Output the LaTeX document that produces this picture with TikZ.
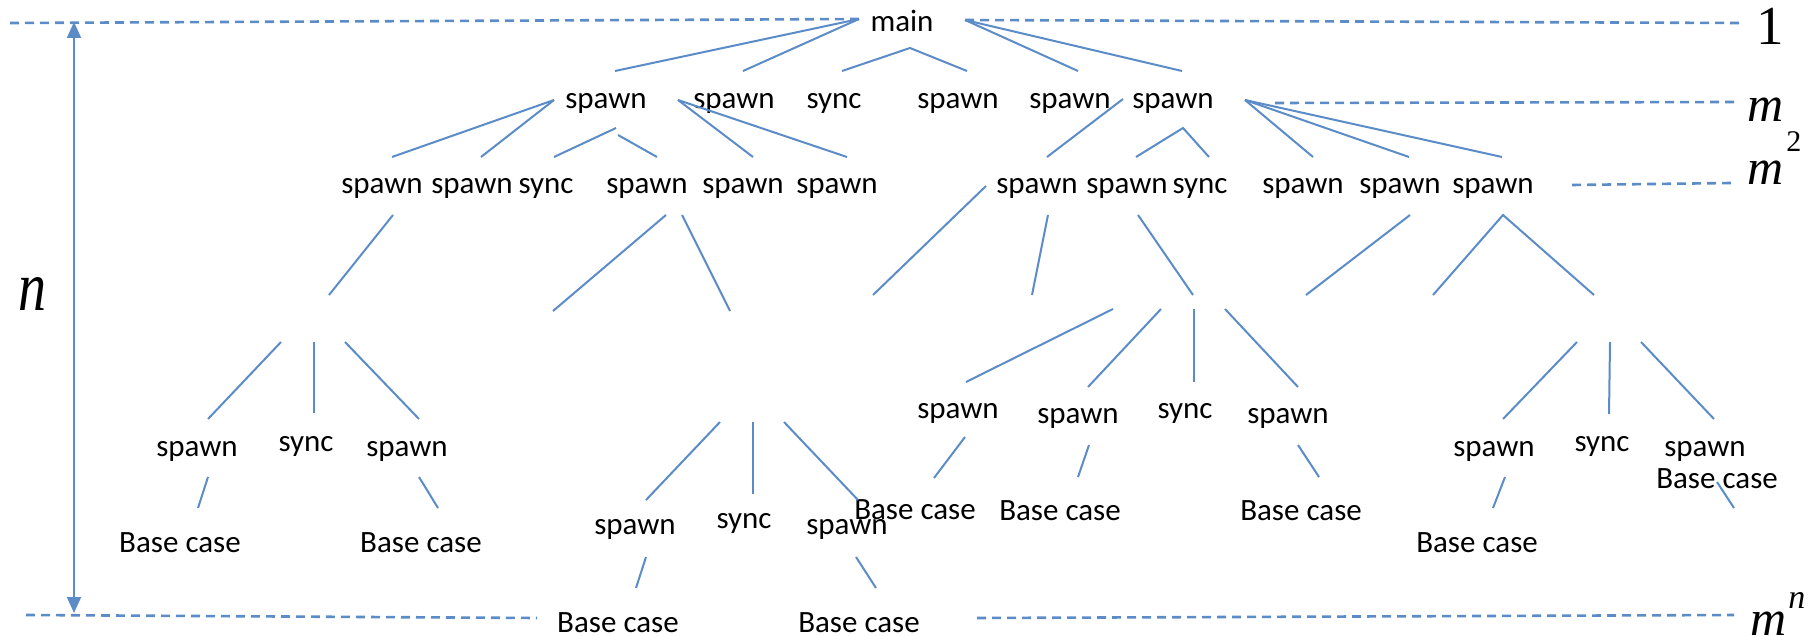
\documentclass[tikz,border=0pt]{standalone}
\usepackage{fontspec}
\setmainfont{Carlito}
\newfontfamily\labfont{Liberation Serif}[ItalicFont={Liberation Serif Italic}]
\usetikzlibrary{arrows.meta}
\definecolor{lineblue}{HTML}{5B8CC8}
\begin{document}
\begin{tikzpicture}[x=1pt,y=-1pt,
  txt/.style={inner sep=0pt, anchor=base, font=\fontsize{31}{37}\selectfont},
  edge/.style={draw=lineblue, line width=2pt},
  guide/.style={draw=lineblue, line width=2.6pt, dash pattern=on 9pt off 6pt},
  lab/.style={inner sep=0pt, font=\labfont\fontsize{50}{60}\selectfont}]
\useasboundingbox (0,0) rectangle (1820,636);

% ---- nodes ----
\node[txt] (main) at (902,32) {main};
% level 1
\node[txt] (s1) at (606,109) {spawn};
\node[txt] (s2) at (734,109) {spawn};
\node[txt] (y1) at (834,109) {sync};
\node[txt] (s4) at (958,109) {spawn};
\node[txt] (s5) at (1070,109) {spawn};
\node[txt] (s6) at (1173,109) {spawn};
% level 2
\node[txt] (a) at (382,194) {spawn};
\node[txt] (b) at (472,194) {spawn};
\node[txt] (c) at (546,194) {sync};
\node[txt] (d) at (647,194) {spawn};
\node[txt] (e) at (743,194) {spawn};
\node[txt] (f) at (837,194) {spawn};
\node[txt] (g) at (1037,194) {spawn};
\node[txt] (h) at (1127,194) {spawn};
\node[txt] (i) at (1200,194) {sync};
\node[txt] (j) at (1303,194) {spawn};
\node[txt] (k) at (1400,194) {spawn};
\node[txt] (l) at (1493,194) {spawn};
% left subtree
\node[txt] (L1) at (197,456) {spawn};
\node[txt] (L2) at (306,451) {sync};
\node[txt] (L3) at (407,456) {spawn};
\node[txt] (LB1) at (180,552) {Base case};
\node[txt] (LB3) at (421,552) {Base case};
% middle subtree
\node[txt] (M1) at (635,534) {spawn};
\node[txt] (M2) at (744,528) {sync};
\node[txt] (M3) at (847,534) {spawn};
\node[txt, text depth=0pt] (MB1) at (618,632) {Base case};
\node[txt, text depth=0pt] (MB3) at (859,632) {Base case};
% right-centre subtree
\node[txt] (R1) at (958,418) {spawn};
\node[txt] (R2) at (1078,423) {spawn};
\node[txt] (R3) at (1185,418) {sync};
\node[txt] (R4) at (1288,423) {spawn};
\node[txt] (RB1) at (915,519) {Base case};
\node[txt] (RB2) at (1060,520) {Base case};
\node[txt] (RB4) at (1301,520) {Base case};
% right subtree
\node[txt] (Q1) at (1494,456) {spawn};
\node[txt] (Q2) at (1602,451) {sync};
\node[txt] (Q3) at (1705,456) {spawn};
\node[txt] (QB3) at (1717,488) {Base case};
\node[txt] (QB1) at (1477,552) {Base case};

% labels
\node[lab, anchor=base] (one) at (1770,45) {\fontsize{55}{60}\selectfont 1};
\node[lab, anchor=base west] (lm) at (1747,122) {\itshape m};
\node[lab, anchor=base west] (lm2) at (1747,185) {\itshape m\kern3pt\raisebox{33pt}{\fontsize{30}{30}\selectfont\upshape 2}};
\node[lab, anchor=base] (ln) at (33,310) {\scalebox{0.8}[1]{\fontsize{70}{80}\selectfont\itshape n}};
\node[lab, anchor=base west, text depth=0pt] (lmn) at (1750,635) {\itshape m\kern2pt\raisebox{27pt}{\fontsize{34}{34}\selectfont n}};

% ---- junction coordinates ----
\coordinate (mL) at ([shift={(-43,-13)}]main.base);
\coordinate (mR) at ([shift={(63,-12)}]main.base);
\coordinate (mV) at ([shift={(8,16)}]main.base);
\coordinate (s1L) at ([shift={(-52,-9)}]s1.base);
\coordinate (s1V) at ([shift={(10,19)}]s1.base);
\coordinate (s1R) at ([shift={(72,-9)}]s1.base);
\coordinate (s6L) at ([shift={(-50,-10)}]s6.base);
\coordinate (s6V) at ([shift={(10,19)}]s6.base);
\coordinate (s6R) at ([shift={(72,-9)}]s6.base);
% dangling ends, level 3
\coordinate (x1) at (329,295);
\coordinate (x2) at (553,311);
\coordinate (x3) at (730,311);
\coordinate (x4) at (873,295);
\coordinate (x5) at (1032,295);
\coordinate (x6) at (1193,295);
\coordinate (x7) at (1306,295);
\coordinate (x8) at (1433,295);
\coordinate (x9) at (1594,295);
% dangling starts, level 4
\coordinate (y1s) at (281,342);
\coordinate (y2s) at (314,342);
\coordinate (y3s) at (345,342);
\coordinate (y4s) at (720,422);
\coordinate (y5s) at (753,422);
\coordinate (y6s) at (784,422);
\coordinate (y7s) at (1113,309);
\coordinate (y8s) at (1161,309);
\coordinate (y9s) at (1194,309);
\coordinate (y10s) at (1225,309);
\coordinate (y11s) at (1577,342);
\coordinate (y12s) at (1610,342);
\coordinate (y13s) at (1641,342);
\coordinate (z1) at (1734,508);
% guide ends
\coordinate (d1s) at (10,23);
\coordinate (d1e) at (1740,23);
\coordinate (d2e) at (1734,102);
\coordinate (d3s) at (1572,185);
\coordinate (d3e) at (1731,183);
\coordinate (d4s) at (26,615);
\coordinate (d4e) at (537,618);
\coordinate (d5s) at (977,618);
\coordinate (d5e) at (1734,615);
\coordinate (arT) at (74,22);
\coordinate (arB) at (74,613);

% ---- edges: main -> level 1 ----
\draw[edge] (mL) -- ([shift={(9,-38)}]s1.base);
\draw[edge] (mL) -- ([shift={(9,-38)}]s2.base);
\draw[edge] ([shift={(8,-38)}]y1.base) -- (mV) -- ([shift={(9,-38)}]s4.base);
\draw[edge] (mR) -- ([shift={(8,-38)}]s5.base);
\draw[edge] (mR) -- ([shift={(9,-38)}]s6.base);

% ---- level 1 -> level 2 ----
\draw[edge] (s1L) -- ([shift={(10,-37)}]a.base);
\draw[edge] (s1L) -- ([shift={(9,-37)}]b.base);
\draw[edge] ([shift={(8,-37)}]c.base) -- (s1V);
\draw[edge] ([shift={(12,26)}]s1.base) -- ([shift={(10,-37)}]d.base);
\draw[edge] (s1R) -- ([shift={(10,-37)}]e.base);
\draw[edge] (s1R) -- ([shift={(10,-37)}]f.base);

\draw[edge] (s6L) -- ([shift={(10,-37)}]g.base);
\draw[edge] ([shift={(9,-37)}]h.base) -- (s6V) -- ([shift={(9,-37)}]i.base);
\draw[edge] (s6R) -- ([shift={(10,-37)}]j.base);
\draw[edge] (s6R) -- ([shift={(9,-37)}]k.base);
\draw[edge] (s6R) -- ([shift={(9,-37)}]l.base);

% ---- level 2 -> level 3 ----
\draw[edge] ([shift={(11,21)}]a.base) -- (x1);
\draw[edge] ([shift={(19,21)}]d.base) -- (x2);
\draw[edge] ([shift={(35,21)}]d.base) -- (x3);
\draw[edge] ([shift={(-51,-8)}]g.base) -- (x4);
\draw[edge] ([shift={(11,21)}]g.base) -- (x5);
\draw[edge] ([shift={(11,21)}]h.base) -- (x6);
\draw[edge] ([shift={(10,21)}]k.base) -- (x7);
\draw[edge] (x8) -- ([shift={(10,21)}]l.base) -- (x9);

% ---- level 3 -> leaves ----
\draw[edge] (y1s) -- ([shift={(11,-37)}]L1.base);
\draw[edge] (y2s) -- ([shift={(8,-38)}]L2.base);
\draw[edge] (y3s) -- ([shift={(12,-37)}]L3.base);
\draw[edge] (y4s) -- ([shift={(11,-34)}]M1.base);
\draw[edge] (y5s) -- ([shift={(9,-34)}]M2.base);
\draw[edge] (y6s) -- ([shift={(11,-34)}]M3.base);
\draw[edge] (y7s) -- ([shift={(8,-36)}]R1.base);
\draw[edge] (y8s) -- ([shift={(10,-36)}]R2.base);
\draw[edge] (y9s) -- ([shift={(9,-36)}]R3.base);
\draw[edge] (y10s) -- ([shift={(10,-36)}]R4.base);
\draw[edge] (y11s) -- ([shift={(9,-37)}]Q1.base);
\draw[edge] (y12s) -- ([shift={(7,-37)}]Q2.base);
\draw[edge] (y13s) -- ([shift={(9,-37)}]Q3.base);

% ---- spawn -> base case ----
\draw[edge] ([shift={(11,21)}]L1.base) -- ([shift={(18,-44)}]LB1.base);
\draw[edge] ([shift={(12,21)}]L3.base) -- ([shift={(17,-44)}]LB3.base);
\draw[edge] ([shift={(11,23)}]M1.base) -- ([shift={(18,-44)}]MB1.base);
\draw[edge] ([shift={(9,23)}]M3.base) -- ([shift={(17,-44)}]MB3.base);
\draw[edge] ([shift={(7,19)}]R1.base) -- ([shift={(19,-41)}]RB1.base);
\draw[edge] ([shift={(11,22)}]R2.base) -- ([shift={(18,-43)}]RB2.base);
\draw[edge] ([shift={(10,22)}]R4.base) -- ([shift={(18,-43)}]RB4.base);
\draw[edge] ([shift={(11,21)}]Q1.base) -- ([shift={(16,-44)}]QB1.base);
\draw[edge] ([shift={(12,26)}]Q3.base) -- (z1);

% ---- guides ----
\draw[guide] (d1s) -- (mL);
\draw[guide] (mR) -- (d1e);
\draw[guide] ([shift={(102,-6)}]s6.base) -- (d2e);
\draw[guide] (d3s) -- (d3e);
\draw[guide] (d4s) -- (d4e);
\draw[guide] (d5s) -- (d5e);

% ---- depth arrow ----
\draw[edge, {Triangle[length=16pt,width=14pt]}-{Triangle[length=16pt,width=14pt]}] (arT) -- (arB);
\end{tikzpicture}
\end{document}
